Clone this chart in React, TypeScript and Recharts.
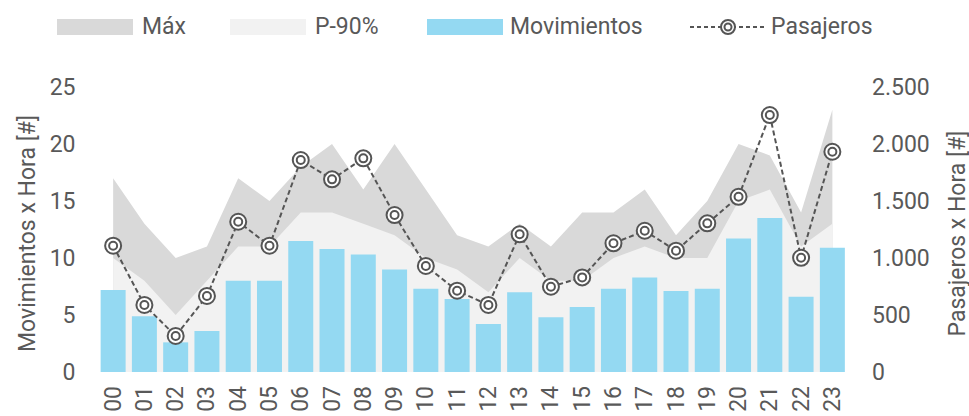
import React from "react";
import { ComposedChart, Area, Bar, Line, XAxis, YAxis } from "recharts";

const hours = ["00","01","02","03","04","05","06","07","08","09","10","11","12","13","14","15","16","17","18","19","20","21","22","23"];
const movimientos = [7.2, 4.9, 2.6, 3.6, 8.0, 8.0, 11.5, 10.8, 10.3, 9.0, 7.3, 6.4, 4.2, 7.0, 4.8, 5.7, 7.3, 8.3, 7.1, 7.3, 11.7, 13.5, 6.6, 10.9];
const pasajeros = [1108, 588, 316, 667, 1318, 1108, 1859, 1690, 1874, 1377, 930, 713, 588, 1208, 748, 830, 1129, 1239, 1064, 1304, 1537, 2254, 1002, 1932];
const maximo = [17, 13, 10, 11, 17, 15, 18, 20, 16, 20, 16, 12, 11, 13, 11, 14, 14, 16, 12, 15, 20, 19, 14, 23];
const p90 = [10, 8, 5, 8, 11, 11, 14, 14, 13, 12, 10, 9, 7, 10, 8, 8, 10, 11, 10, 10, 15, 16, 11, 13];
const leftTicks = [0, 5, 10, 15, 20, 25];
const rightTicks = [0, 500, 1000, 1500, 2000, 2500];
const legendLabels = ["Máx", "P-90%", "Movimientos", "Pasajeros"];

const data = hours.map((h, i) => ({
  hora: h,
  mov: movimientos[i],
  pax: pasajeros[i],
  max: maximo[i],
  p90: p90[i],
}));

const TXT = "#595959";
const FONT = "Roboto, 'Noto Sans', sans-serif";
const FS = 23;

const fmt = (v: number) => v.toString().replace(/\B(?=(\d{3})+(?!\d))/g, ".");

const Dot = (props: any) => {
  const { cx, cy } = props;
  if (cx == null || cy == null) return null;
  return (
    <g>
      <circle cx={cx} cy={cy} r={8} fill="#fff" stroke="#555" strokeWidth={2} />
      <circle cx={cx} cy={cy} r={4} fill="#fff" stroke="#555" strokeWidth={2} />
    </g>
  );
};

const XTick = (props: any) => {
  const { x, y, payload } = props;
  const ty = y + 6;
  return (
    <text
      x={x}
      y={ty}
      transform={`rotate(-90, ${x}, ${ty})`}
      textAnchor="end"
      dominantBaseline="central"
      fill={TXT}
      fontSize={FS}
      fontFamily={FONT}
    >
      {payload.value}
    </text>
  );
};

const leftLabel = (props: any) => {
  const { viewBox } = props;
  const cx = viewBox.x + 27;
  const cy = viewBox.y + viewBox.height / 2 + 4;
  return (
    <text x={cx} y={cy} transform={`rotate(-90, ${cx}, ${cy})`} textAnchor="middle" dominantBaseline="central" fill={TXT} fontSize={FS} fontFamily={FONT}>
      Movimientos x Hora [#]
    </text>
  );
};

const rightLabel = (props: any) => {
  const { viewBox } = props;
  const cx = viewBox.x + 109;
  const cy = viewBox.y + viewBox.height / 2 + 4;
  return (
    <text x={cx} y={cy} transform={`rotate(-90, ${cx}, ${cy})`} textAnchor="middle" dominantBaseline="central" fill={TXT} fontSize={FS} fontFamily={FONT}>
      Pasajeros x Hora [#]
    </text>
  );
};

const swatch = (left: number, color: string) => (
  <div style={{ position: "absolute", left, top: 19, width: 76, height: 16, background: color }} />
);
const label = (left: number, text: string) => (
  <div style={{ position: "absolute", left, top: 12, fontSize: FS, lineHeight: "30px", color: TXT, fontFamily: FONT, whiteSpace: "nowrap" }}>{text}</div>
);

export default function App() {
  return (
    <div style={{ position: "absolute", left: 0, top: 0, width: 969, height: 416, background: "#fff", fontFamily: FONT }}>
      {swatch(57, "#D9D9D9")}
      {label(142, legendLabels[0])}
      {swatch(230, "#F2F2F2")}
      {label(315, legendLabels[1])}
      {swatch(427, "#94D9F2")}
      {label(510, legendLabels[2])}
      <svg style={{ position: "absolute", left: 688, top: 15 }} width={80} height={24}>
        <line x1={2} y1={12} x2={78} y2={12} stroke="#555" strokeWidth={2} strokeDasharray="4 3" />
        <circle cx={40} cy={12} r={7} fill="#fff" stroke="#555" strokeWidth={2} />
        <circle cx={40} cy={12} r={3.5} fill="#fff" stroke="#555" strokeWidth={2} />
      </svg>
      {label(771, legendLabels[3])}
      <ComposedChart
        width={969}
        height={416}
        data={data}
        margin={{ top: 87, right: 0, bottom: 0, left: 0 }}
        barCategoryGap="10%"
      >
        <XAxis
          dataKey="hora"
          height={44}
          axisLine={false}
          tickLine={false}
          interval={0}
          tick={<XTick />}
        />
        <YAxis
          yAxisId="left"
          orientation="left"
          width={97.5}
          domain={[0, 25]}
          ticks={leftTicks}
          axisLine={false}
          tickLine={false}
          tickMargin={16}
          tick={{ fill: TXT, fontSize: FS, fontFamily: FONT }}
          label={leftLabel}
        />
        <YAxis
          yAxisId="right"
          orientation="right"
          width={121}
          domain={[0, 2500]}
          ticks={rightTicks}
          axisLine={false}
          tickLine={false}
          tickMargin={18}
          tickFormatter={fmt}
          tick={{ fill: TXT, fontSize: FS, fontFamily: FONT }}
          label={rightLabel}
        />
        <Area yAxisId="left" type="linear" dataKey="max" fill="#D9D9D9" fillOpacity={1} stroke="none" isAnimationActive={false} />
        <Area yAxisId="left" type="linear" dataKey="p90" fill="#F2F2F2" fillOpacity={1} stroke="none" isAnimationActive={false} />
        <Bar yAxisId="left" dataKey="mov" fill="#94D9F2" isAnimationActive={false} />
        <Line
          yAxisId="right"
          type="linear"
          dataKey="pax"
          stroke="#555"
          strokeWidth={2}
          strokeDasharray="5 3"
          dot={<Dot />}
          activeDot={false}
          isAnimationActive={false}
        />
      </ComposedChart>
    </div>
  );
}
